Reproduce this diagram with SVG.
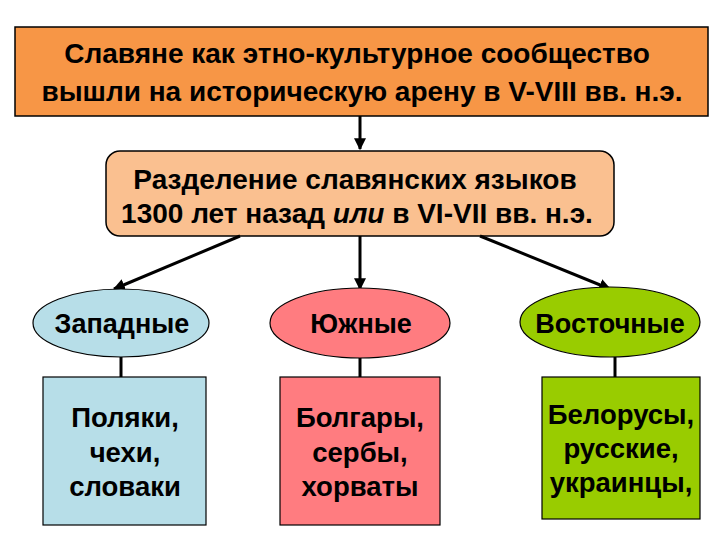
<svg xmlns="http://www.w3.org/2000/svg" width="720" height="540" viewBox="0 0 720 540">
<defs>
<marker id="ah" viewBox="0 0 10 10" refX="9" refY="5" markerWidth="4" markerHeight="4" orient="auto" markerUnits="strokeWidth">
<path d="M0,0 L10,5 L0,10 z" fill="#000"/>
</marker>
<style>
text{font-family:"Liberation Sans",Arial,sans-serif;font-weight:bold;fill:#000;text-anchor:middle}
.t{font-size:28px}
.e{font-size:27px}
.b{font-size:27.5px}
.ln{stroke:#000;stroke-width:3;fill:none}
</style>
</defs>
<rect width="720" height="540" fill="#fff"/>
<g id="top">
<rect x="15" y="27" width="693" height="89" fill="#F79646" stroke="#000" stroke-width="1.5"/>
<text class="t" x="357" y="63">Славяне как этно-культурное сообщество</text>
<text class="t" x="362" y="101">вышли  на историческую арену в V-VIII вв. н.э.</text>
</g>
<g id="split">
<rect x="106" y="151" width="508" height="85" rx="14" fill="#FAC090" stroke="#000" stroke-width="1.5"/>
<text class="t" x="355" y="189">Разделение славянских языков</text>
<text class="t" x="357" y="223">1300 лет назад <tspan font-style="italic">или</tspan> в VI-VII вв. н.э.</text>
</g>
<g id="connectors">
<line class="ln" x1="360" y1="116" x2="360" y2="149" marker-end="url(#ah)"/>
<line class="ln" x1="240" y1="236" x2="114" y2="289" marker-end="url(#ah)"/>
<line class="ln" x1="360" y1="236" x2="360" y2="289" marker-end="url(#ah)"/>
<line class="ln" x1="480" y1="236" x2="610" y2="289" marker-end="url(#ah)"/>
<line class="ln" x1="121" y1="357" x2="121" y2="377"/>
<line class="ln" x1="360" y1="357" x2="360" y2="377"/>
<line class="ln" x1="615" y1="357" x2="615" y2="377"/>
</g>
<g id="west">
<ellipse cx="121" cy="323" rx="88" ry="34" fill="#B7DEE8" stroke="#000" stroke-width="1.2"/>
<text class="e" x="122" y="333">Западные</text>
</g>
<g id="south">
<ellipse cx="360" cy="323" rx="90" ry="35" fill="#FF7C80" stroke="#000" stroke-width="1.2"/>
<text class="e" x="361" y="333">Южные</text>
</g>
<g id="east">
<ellipse cx="610" cy="322" rx="90" ry="35" fill="#99CC00" stroke="#000" stroke-width="1.2"/>
<text class="e" x="610" y="333">Восточные</text>
</g>
<g id="west-peoples">
<rect x="43" y="377" width="163" height="148" fill="#B7DEE8" stroke="#000" stroke-width="1.2"/>
<text class="b" x="125" y="427">Поляки,</text>
<text class="b" x="125" y="462">чехи,</text>
<text class="b" x="125" y="496">словаки</text>
</g>
<g id="south-peoples">
<rect x="280" y="377" width="160" height="148" fill="#FF7C80" stroke="#000" stroke-width="1.2"/>
<text class="b" x="360" y="427">Болгары,</text>
<text class="b" x="360" y="462">сербы,</text>
<text class="b" x="360" y="496">хорваты</text>
</g>
<g id="east-peoples">
<rect x="542" y="377" width="158" height="142" fill="#99CC00" stroke="#000" stroke-width="1.2"/>
<text class="b" x="621" y="424">Белорусы,</text>
<text class="b" x="621" y="458">русские,</text>
<text class="b" x="621" y="492">украинцы,</text>
</g>
</svg>
